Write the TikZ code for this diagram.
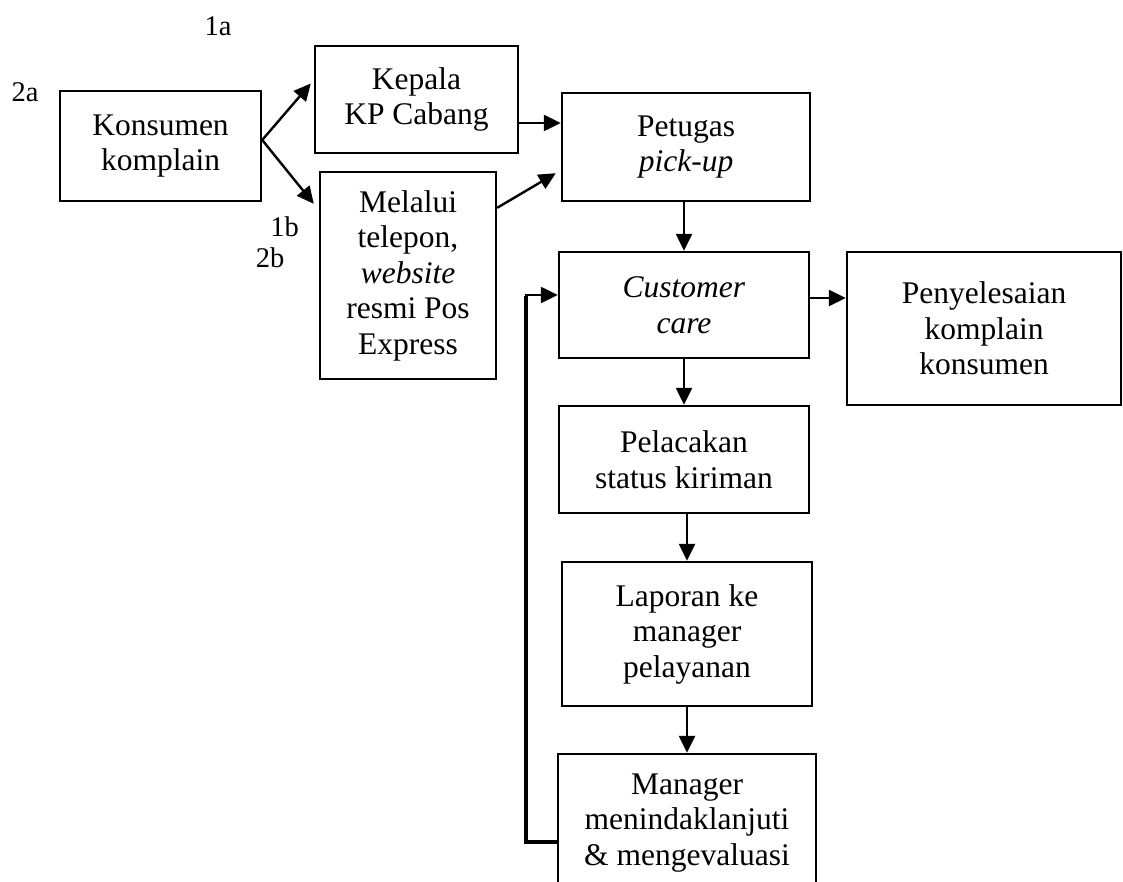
\documentclass[tikz,border=0pt]{standalone}
\usepackage{fontspec}
\setmainfont{Liberation Serif}
\usetikzlibrary{positioning, arrows.meta, calc}
\tikzset{
  blok/.style={draw, line width=2.4pt, align=center, inner sep=0pt,
               font=\fontsize{31.5}{35.5}\selectfont},
  flow/.style={-{Triangle[length=17pt, width=16pt]}, line width=2.4pt},
  back/.style={line width=4.5pt},
  nomor/.style={font=\fontsize{28.5}{32}\selectfont, inner sep=0pt},
}

\begin{document}
\begin{tikzpicture}[x=1pt, y=-1pt]
  \useasboundingbox (0,0) rectangle (1123,882);
  % boxes, left part
  \node[blok, minimum width=201pt, minimum height=110pt] (kons) at (160.5,146) {Konsumen\\komplain};
  \node[blok, minimum width=203pt, minimum height=107pt] (kepala) at (416.5,99.5) {Kepala\\KP Cabang};
  \node[blok, minimum width=176pt, minimum height=207pt] (melalui) at (408,275.5)
    {Melalui\\telepon,\\\textit{website}\\resmi Pos\\Express};
  % boxes, main column
  \node[blok, minimum width=248pt, minimum height=108pt] (petugas) at (686,147) {Petugas\\\textit{pick-up}};
  \node[blok, minimum width=250pt, minimum height=106pt] (cc) at (684,305) {\textit{Customer}\\\textit{care}};
  \node[blok, minimum width=274pt, minimum height=153pt] (selesai) at (984,328.5)
    {Penyelesaian\\komplain\\konsumen};
  \node[blok, minimum width=250pt, minimum height=107pt] (lacak) at (684,459.5) {Pelacakan\\status kiriman};
  \node[blok, minimum width=250pt, minimum height=144pt] (lapor) at (687,634) {Laporan ke\\manager\\pelayanan};
  \node[blok, minimum width=258pt, minimum height=138pt] (manager) at (687,823)
    {Manager\\menindaklanjuti\\\& mengevaluasi};
  % numbers
  \node[nomor] (n1a) at (218,26) {1a};
  \node[nomor] (n2a) at (25,92) {2a};
  \node[nomor] (n1b) at (284.5,226.5) {1b};
  \node[nomor] (n2b) at (270,258) {2b};
  % arrows
  \coordinate (cabang) at ($(kons.east)+(0,-6)$);
  \draw[flow] (cabang) -- ($(kepala.west)+(-3,-16)$);
  \draw[flow] (cabang) -- ($(melalui.north west)+(-5,33)$);
  \draw[flow] ($(kepala.east)+(0,23.5)$) coordinate (k1) -- (k1 -| petugas.west);
  \draw[flow] ($(melalui.north east)+(0,37)$) -- ($(petugas.south west)+(-5,-29)$);
  \draw[flow] (cc.north |- petugas.south) -- (cc.north);
  \draw[flow] (cc.south) -- (lacak.north);
  \draw[flow] (lapor.north |- lacak.south) -- (lapor.north);
  \draw[flow] (lapor.south) -- (manager.north);
  \draw[flow] ($(cc.east)+(0,-7)$) coordinate (c1) -- (c1 -| selesai.west);
  % back to customer care
  \coordinate (fbA) at ($(manager.west)+(0,19)$);
  \coordinate (fbB) at ($(cc.west)+(0,-10)$);
  \coordinate (sudutA) at (526,842);
  \coordinate (sudutB) at (526,295);
  \draw[back] (fbA) -- (sudutA) -- ([yshift=-1pt]sudutB);
  \draw[flow] ([xshift=-1pt]sudutB) -- (fbB);
\end{tikzpicture}
\end{document}
